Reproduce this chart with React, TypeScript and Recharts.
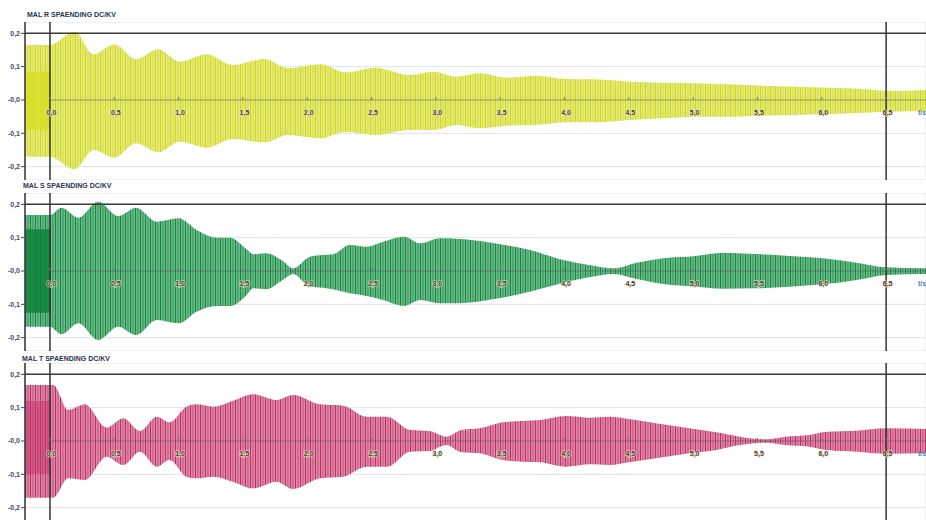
import React from 'react';
import { ComposedChart, Area, XAxis, YAxis, CartesianGrid, ReferenceLine } from 'recharts';

// ---------- axis ticks & labels ----------
const xTicks = [0, 0.5, 1, 1.5, 2, 2.5, 3, 3.5, 4, 4.5, 5, 5.5, 6, 6.5];
const xTickLabels = ['0,0', '0,5', '1,0', '1,5', '2,0', '2,5', '3,0', '3,5', '4,0', '4,5', '5,0', '5,5', '6,0', '6,5'];
const yTicks = [-0.2, -0.1, 0, 0.1, 0.2];
const yTickLabels = ['-0,2', '-0,1', '-0,0', '0,1', '0,2'];
const timeUnit = 't/s';

// pre-trigger dense region
const coreTime = [-0.194, 0];

// ---------- MAL R (yellow) envelope ----------
const rTitle = 'MAL R SPAENDING DC/KV';
const rTime = [-0.194, 0, 0.19, 0.34, 0.5, 0.67, 0.84, 1.01, 1.22, 1.42, 1.67, 1.85, 2.1, 2.3, 2.53, 2.8, 2.98, 3.16, 3.34, 3.55, 3.78, 4.01, 4.24, 4.5, 4.76, 5.02, 5.28, 5.54, 5.8, 6.06, 6.32, 6.53, 6.81];
const rHi = [0.165, 0.165, 0.205, 0.137, 0.167, 0.122, 0.152, 0.115, 0.137, 0.105, 0.123, 0.095, 0.107, 0.083, 0.097, 0.075, 0.085, 0.07, 0.08, 0.067, 0.073, 0.063, 0.062, 0.055, 0.052, 0.05, 0.047, 0.043, 0.04, 0.037, 0.033, 0.027, 0.03];
const rLo = [-0.17, -0.17, -0.208, -0.15, -0.173, -0.13, -0.157, -0.125, -0.143, -0.117, -0.127, -0.105, -0.115, -0.095, -0.105, -0.09, -0.09, -0.075, -0.085, -0.077, -0.075, -0.067, -0.067, -0.06, -0.055, -0.05, -0.05, -0.047, -0.045, -0.042, -0.038, -0.035, -0.033];
const rCoreHi = [0.085, 0.085];
const rCoreLo = [-0.09, -0.09];

// ---------- MAL S (green) envelope ----------
const sTitle = 'MAL S SPAENDING DC/KV';
const sTime = [-0.194, 0, 0.09, 0.22, 0.375, 0.53, 0.67, 0.83, 1.0, 1.14, 1.3, 1.4, 1.53, 1.58, 1.68, 1.81, 1.89, 2.02, 2.12, 2.2, 2.33, 2.46, 2.59, 2.75, 2.88, 3.03, 3.16, 3.49, 3.73, 3.99, 4.19, 4.38, 4.56, 4.77, 5.02, 5.23, 5.49, 5.75, 6.01, 6.27, 6.5, 6.81];
const sHi = [0.168, 0.168, 0.19, 0.16, 0.208, 0.165, 0.19, 0.148, 0.158, 0.123, 0.1, 0.1, 0.065, 0.05, 0.053, 0.03, 0.008, 0.043, 0.048, 0.05, 0.078, 0.073, 0.088, 0.103, 0.083, 0.098, 0.097, 0.081, 0.063, 0.033, 0.018, 0.008, 0.025, 0.038, 0.045, 0.055, 0.051, 0.045, 0.038, 0.025, 0.011, 0.008];
const sLo = [-0.167, -0.167, -0.19, -0.157, -0.207, -0.167, -0.192, -0.147, -0.157, -0.122, -0.105, -0.105, -0.072, -0.052, -0.055, -0.027, -0.009, -0.047, -0.05, -0.055, -0.067, -0.075, -0.087, -0.105, -0.087, -0.097, -0.097, -0.082, -0.062, -0.035, -0.019, -0.009, -0.024, -0.039, -0.047, -0.053, -0.052, -0.047, -0.04, -0.027, -0.012, -0.009];
const sCoreHi = [0.125, 0.125];
const sCoreLo = [-0.125, -0.125];

// ---------- MAL T (magenta) envelope ----------
const tTitle = 'MAL T SPAENDING DC/KV';
const tTime = [-0.194, 0, 0.026, 0.142, 0.272, 0.44, 0.57, 0.7, 0.83, 0.93, 1.06, 1.14, 1.27, 1.42, 1.58, 1.76, 1.89, 2.1, 2.28, 2.46, 2.62, 2.8, 2.95, 3.08, 3.2, 3.34, 3.52, 3.67, 3.81, 4.01, 4.2, 4.35, 4.5, 4.71, 4.97, 5.18, 5.36, 5.57, 5.72, 5.9, 6.04, 6.27, 6.5, 6.81];
const tHi = [0.168, 0.168, 0.168, 0.093, 0.11, 0.04, 0.068, 0.03, 0.073, 0.056, 0.103, 0.11, 0.103, 0.12, 0.14, 0.123, 0.138, 0.11, 0.106, 0.073, 0.073, 0.033, 0.03, 0.013, 0.033, 0.038, 0.056, 0.06, 0.063, 0.075, 0.07, 0.073, 0.066, 0.053, 0.038, 0.026, 0.013, 0.005, 0.013, 0.018, 0.028, 0.031, 0.038, 0.036];
const tLo = [-0.17, -0.17, -0.17, -0.112, -0.117, -0.047, -0.072, -0.032, -0.077, -0.057, -0.107, -0.112, -0.107, -0.122, -0.142, -0.122, -0.144, -0.112, -0.107, -0.077, -0.077, -0.032, -0.03, -0.012, -0.034, -0.037, -0.057, -0.062, -0.064, -0.077, -0.07, -0.072, -0.064, -0.052, -0.037, -0.027, -0.012, -0.005, -0.012, -0.017, -0.027, -0.032, -0.038, -0.037];
const tCoreHi = [0.12, 0.12];
const tCoreLo = [-0.1, -0.1];

// ---------- layout / style ----------
const W = 926;
const PLOT_H = 158;
const Y_DOMAIN: [number, number] = [-0.24, 0.234];
const X_DOMAIN: [number, number] = [-0.194, 6.81];
const ZERO_FROM_TOP = 78;
const FONT = '"Liberation Sans", Arial, sans-serif';

const makeTickLabel = (text: string) => (lp: any) => {
  const vb = lp.viewBox || {};
  const x = vb.x || 0;
  const zeroY = (vb.y || 0) + ZERO_FROM_TOP;
  return (
    <g>
      <line x1={x} x2={x} y1={zeroY - 3} y2={zeroY} stroke="#777" strokeWidth={1} />
      <text x={x + 1.5} y={zeroY + 15} textAnchor="middle" fontSize={7} fontWeight="bold" fill="#4a4235"
        stroke="#f3e6c8" strokeWidth={1.6} strokeOpacity={0.7} paintOrder="stroke" fontFamily={FONT}>
        {text}
      </text>
    </g>
  );
};

function Panel(p: any) {
  const rows = p.time.map((t: number, i: number) => {
    const ci = coreTime.indexOf(t);
    return { t, band: [p.lo[i], p.hi[i]], core: ci >= 0 ? [p.coreLo[ci], p.coreHi[ci]] : null };
  });
  const pid = `stripe-${p.id}`;
  return (
    <>
      <div style={{ position: 'absolute', left: p.titleLeft, top: p.titleTop, fontSize: 7, lineHeight: '7px', fontWeight: 'bold', color: '#2b3550', whiteSpace: 'nowrap', fontFamily: FONT }}>
        {p.title}
      </div>
      <div style={{ position: 'absolute', left: 0, top: p.top, width: W, height: PLOT_H }}>
        <ComposedChart width={W} height={PLOT_H} data={rows} margin={{ top: 0, right: 0, bottom: 0, left: 0 }}>
          <defs>
            <pattern id={pid} patternUnits="userSpaceOnUse" width={5} height={6}>
              <rect x={0} y={0} width={5} height={6} fill={p.light} />
              <rect x={0} y={0} width={1} height={6} fill={p.dark} />
              <rect x={2.5} y={0} width={0.9} height={6} fill={p.dark} fillOpacity={0.75} />
            </pattern>
          </defs>
          <CartesianGrid stroke="#dfe2ea" strokeWidth={1} />
          <XAxis
            dataKey="t"
            type="number"
            domain={X_DOMAIN}
            ticks={xTicks}
            interval={0}
            height={0}
            axisLine={false}
            tickLine={false}
            tick={false}
            allowDataOverflow
          />
          <YAxis
            type="number"
            domain={Y_DOMAIN}
            ticks={yTicks}
            interval={0}
            width={25}
            tickSize={4}
            tickMargin={1}
            tickFormatter={(v: number) => yTickLabels[yTicks.indexOf(v)]}
            tick={{ fontSize: 7, fill: '#3d4a6b', fontWeight: 'bold', fontFamily: FONT }}
            tickLine={{ stroke: '#444' }}
            axisLine={{ stroke: '#333', strokeWidth: 1.5 }}
            allowDataOverflow
          />
          <Area dataKey="band" type="monotone" stroke="none" fill={`url(#${pid})`} fillOpacity={1} isAnimationActive={false} dot={false} activeDot={false} />
          <Area dataKey="core" type="linear" stroke="none" fill={p.core} fillOpacity={p.coreOpacity} isAnimationActive={false} dot={false} activeDot={false} />
          <ReferenceLine
            segment={[{ x: 0, y: 0 }, { x: X_DOMAIN[1], y: 0 }]}
            stroke="#555"
            strokeOpacity={0.55}
            strokeWidth={1}
            label={(lp: any) => {
              const vb = lp.viewBox || {};
              return (
                <text x={W - 8} y={(vb.y || 0) + 15} fontSize={7} fontWeight="bold" fill="#5a7ab0" fontFamily={FONT}>
                  {timeUnit}
                </text>
              );
            }}
          />
          <ReferenceLine y={0.2} stroke="#3a3a3a" strokeWidth={1.5} />
          <ReferenceLine x={0} stroke="#333" strokeWidth={1.5} />
          <ReferenceLine x={6.5} stroke="#333" strokeWidth={1.5} />
          {xTicks.map((v, i) => (
            <ReferenceLine key={`xl-${v}`} x={v} stroke="none" label={makeTickLabel(xTickLabels[i])} />
          ))}
        </ComposedChart>
      </div>
    </>
  );
}

export default function App() {
  return (
    <div style={{ position: 'absolute', left: 0, top: 0, width: W, height: 520, overflow: 'hidden', background: '#fff' }}>
      <Panel id="r" title={rTitle} time={rTime} hi={rHi} lo={rLo} coreHi={rCoreHi} coreLo={rCoreLo}
        top={22} titleTop={11} titleLeft={27} light="#e5eb7c" dark="#cdd51c" core="#d6de22" coreOpacity={0.8} />
      <Panel id="s" title={sTitle} time={sTime} hi={sHi} lo={sLo} coreHi={sCoreHi} coreLo={sCoreLo}
        top={193} titleTop={181.5} titleLeft={23} light="#70b98b" dark="#0c8a3e" core="#0a7f38" coreOpacity={0.8} />
      <Panel id="t" title={tTitle} time={tTime} hi={tHi} lo={tLo} coreHi={tCoreHi} coreLo={tCoreLo}
        top={363} titleTop={354.5} titleLeft={22} light="#dc8cab" dark="#c22a60" core="#c4376e" coreOpacity={0.55} />
    </div>
  );
}
